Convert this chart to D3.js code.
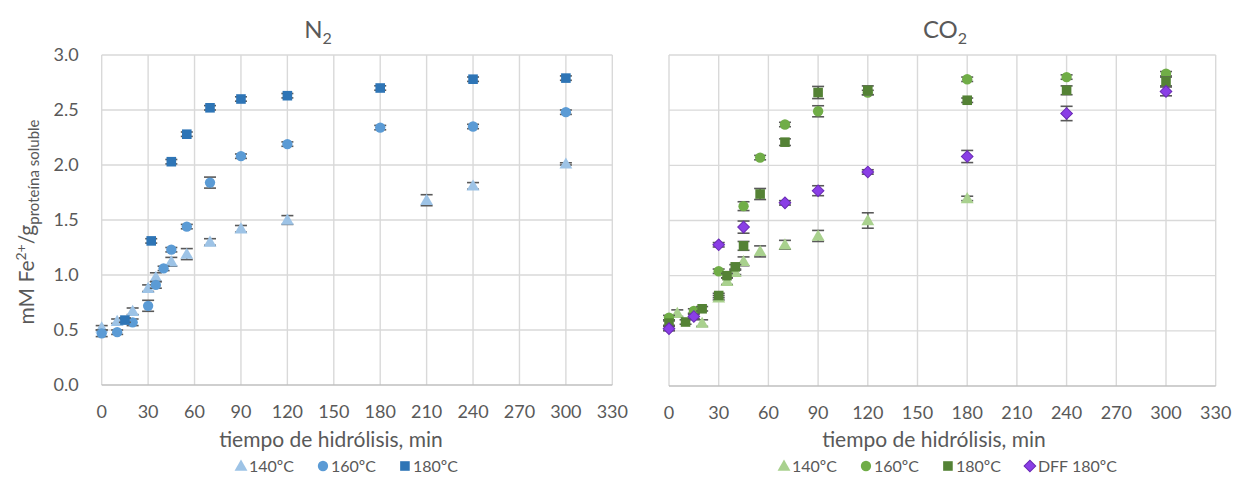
<!DOCTYPE html>
<html>
<head>
<meta charset="utf-8">
<script src="https://cdn.jsdelivr.net/npm/d3@7"></script>
<style>
  body { margin: 0; background: #fff; }
  svg { font-family: Lato, "Open Sans", sans-serif; }
</style>
</head>
<body>
<svg id="chart" width="1240" height="486"></svg>
<script>
// axis ticks
var xTickValues = [0, 30, 60, 90, 120, 150, 180, 210, 240, 270, 300, 330];
var yTickValues = [0.0, 0.5, 1.0, 1.5, 2.0, 2.5, 3.0];

// N2 panel
var n2T140 = [0, 10, 20, 30, 35, 45, 55, 70, 90, 120, 210, 240, 300];
var n2Y140 = [0.52, 0.58, 0.67, 0.88, 0.98, 1.12, 1.19, 1.30, 1.42, 1.50, 1.68, 1.81, 2.01];
var n2E140 = [0.02, 0.02, 0.03, 0.03, 0.04, 0.04, 0.05, 0.03, 0.03, 0.04, 0.05, 0.03, 0.01];

var n2T160 = [0, 10, 20, 30, 35, 40, 45, 55, 70, 90, 120, 180, 240, 300];
var n2Y160 = [0.47, 0.48, 0.57, 0.72, 0.91, 1.06, 1.23, 1.44, 1.84, 2.08, 2.19, 2.34, 2.35, 2.48];
var n2E160 = [0.03, 0.02, 0.03, 0.05, 0.03, 0.02, 0.02, 0.02, 0.05, 0.02, 0.02, 0.02, 0.02, 0.02];

var n2T180 = [15, 32, 45, 55, 70, 90, 120, 180, 240, 300];
var n2Y180 = [0.59, 1.31, 2.03, 2.28, 2.52, 2.60, 2.63, 2.70, 2.78, 2.79];
var n2E180 = [0.02, 0.02, 0.02, 0.02, 0.02, 0.02, 0.02, 0.02, 0.02, 0.02];

// CO2 panel
var co2T140 = [5, 20, 30, 35, 40, 45, 55, 70, 90, 120, 180];
var co2Y140 = [0.66, 0.57, 0.80, 0.95, 1.03, 1.13, 1.22, 1.28, 1.36, 1.50, 1.70];
var co2E140 = [0.03, 0.03, 0.02, 0.03, 0.02, 0.04, 0.05, 0.04, 0.05, 0.07, 0.02];

var co2T160 = [0, 15, 30, 45, 55, 70, 90, 120, 180, 240, 300];
var co2Y160 = [0.62, 0.68, 1.04, 1.63, 2.07, 2.37, 2.49, 2.66, 2.78, 2.80, 2.83];
var co2E160 = [0.02, 0.02, 0.02, 0.04, 0.02, 0.02, 0.05, 0.02, 0.02, 0.02, 0.02];

var co2T180 = [0, 10, 20, 30, 35, 40, 45, 55, 70, 90, 120, 180, 240, 300];
var co2Y180 = [0.57, 0.58, 0.70, 0.82, 1.00, 1.08, 1.27, 1.74, 2.21, 2.66, 2.68, 2.59, 2.68, 2.76];
var co2E180 = [0.02, 0.02, 0.02, 0.02, 0.02, 0.02, 0.04, 0.05, 0.03, 0.055, 0.04, 0.02, 0.04, 0.04];

var co2TDff = [0, 15, 30, 45, 70, 90, 120, 180, 240, 300];
var co2YDff = [0.52, 0.63, 1.28, 1.44, 1.66, 1.77, 1.94, 2.08, 2.47, 2.67];
var co2EDff = [0.02, 0.02, 0.02, 0.055, 0.02, 0.045, 0.02, 0.055, 0.065, 0.04];

var textColor = "#595959";
var gridColor = "#d9d9d9";
var errColor = "#595959";

function zipSeries(t, y, e) {
    return t.map(function (d, i) { return {t: d, y: y[i], e: e[i]}; });
}

var panels = [
    {
        title: "N", sub: "2", titleX: 318, xTitleX: 331,
        left: 101.7, right: 612.3, top: 55, bottom: 385,
        showY: true, legendStart: 235,
        series: [
            {name: "140ºC", shape: "triangle", fill: "#9dc3e6", data: zipSeries(n2T140, n2Y140, n2E140)},
            {name: "160ºC", shape: "circle", fill: "#5b9bd5", data: zipSeries(n2T160, n2Y160, n2E160)},
            {name: "180ºC", shape: "square", fill: "#2e75b6", data: zipSeries(n2T180, n2Y180, n2E180)}
        ]
    },
    {
        title: "CO", sub: "2", titleX: 945, xTitleX: 934,
        left: 669, right: 1215.7, top: 55, bottom: 386,
        showY: false, legendStart: 778,
        series: [
            {name: "140ºC", shape: "triangle", fill: "#a9d18e", data: zipSeries(co2T140, co2Y140, co2E140)},
            {name: "160ºC", shape: "circle", fill: "#70ad47", data: zipSeries(co2T160, co2Y160, co2E160)},
            {name: "180ºC", shape: "square", fill: "#548235", data: zipSeries(co2T180, co2Y180, co2E180)},
            {name: "DFF 180ºC", shape: "diamond", fill: "#8a3ee6", stroke: "#6a2bb5", data: zipSeries(co2TDff, co2YDff, co2EDff)}
        ]
    }
];

var svg = d3.select("#chart");

function symbolPath(shape) {
    if (shape === "triangle") return d3.symbol().type(d3.symbolTriangle).size(72)();
    if (shape === "circle") return d3.symbol().type(d3.symbolCircle).size(84)();
    if (shape === "square") return d3.symbol().type(d3.symbolSquare).size(92)();
    return d3.symbol().type(d3.symbolSquare).size(68)();
}

function drawMarker(g, shape, fill, stroke) {
    var p = g.append("path")
        .attr("d", symbolPath(shape))
        .attr("fill", fill);
    if (shape === "diamond") p.attr("transform", "rotate(45)").attr("stroke", stroke).attr("stroke-width", 1);
    if (shape === "triangle") p.attr("transform", "translate(0,1)");
    return p;
}

panels.forEach(function (p) {
    var x = d3.scaleLinear().domain([0, 330]).range([p.left, p.right]);
    var y = d3.scaleLinear().domain([0, 3]).range([p.bottom, p.top]);

    var grid = svg.append("g");
    grid.selectAll(".v").data(xTickValues).enter().append("line")
        .attr("x1", function (d) { return x(d); })
        .attr("x2", function (d) { return x(d); })
        .attr("y1", p.top).attr("y2", p.bottom)
        .attr("stroke", gridColor).attr("stroke-width", 1.4);
    grid.selectAll(".h").data(yTickValues).enter().append("line")
        .attr("x1", p.left).attr("x2", p.right)
        .attr("y1", function (d) { return y(d); })
        .attr("y2", function (d) { return y(d); })
        .attr("stroke", function (d) { return d === 0 ? "#bfbfbf" : gridColor; })
        .attr("stroke-width", 1.4);

    // x tick labels
    svg.append("g").selectAll("text").data(xTickValues).enter().append("text")
        .attr("x", function (d) { return x(d); })
        .attr("y", p.bottom + 33)
        .attr("text-anchor", "middle")
        .attr("font-size", 18)
        .attr("fill", textColor)
        .text(function (d) { return d; });

    if (p.showY) {
        svg.append("g").selectAll("text").data(yTickValues).enter().append("text")
            .attr("x", p.left - 23)
            .attr("y", function (d) { return y(d) + 6; })
            .attr("text-anchor", "end")
            .attr("font-size", 18)
            .attr("fill", textColor)
            .text(function (d) { return d3.format(".1f")(d); });
    }

    // title
    var t = svg.append("text")
        .attr("x", p.titleX).attr("y", 38)
        .attr("text-anchor", "middle")
        .attr("font-size", 24)
        .attr("fill", textColor);
    t.append("tspan").text(p.title);
    t.append("tspan").attr("font-size", 16).attr("dy", 6).text(p.sub);

    // x axis title
    svg.append("text")
        .attr("x", p.xTitleX).attr("y", 447)
        .attr("text-anchor", "middle")
        .attr("font-size", 21)
        .attr("fill", textColor)
        .text("tiempo de hidrólisis, min");

    // error bars sit behind the markers
    p.series.forEach(function (s) {
        var eg = svg.append("g").attr("stroke", errColor).attr("stroke-width", 1.6).attr("fill", "none");
        s.data.forEach(function (d) {
            var cx = x(d.t), yt = y(d.y + d.e), yb = y(d.y - d.e);
            eg.append("line").attr("x1", cx).attr("x2", cx).attr("y1", yt).attr("y2", yb);
            eg.append("line").attr("x1", cx - 6).attr("x2", cx + 6).attr("y1", yt).attr("y2", yt);
            eg.append("line").attr("x1", cx - 6).attr("x2", cx + 6).attr("y1", yb).attr("y2", yb);
        });
        var g = svg.append("g");
        s.data.forEach(function (d) {
            var m = g.append("g").attr("transform", "translate(" + x(d.t) + "," + y(d.y) + ")");
            drawMarker(m, s.shape, s.fill, s.stroke);
        });
    });

    // legend
    var lx = p.legendStart, ly = 466;
    p.series.forEach(function (s) {
        var m = svg.append("g").attr("transform", "translate(" + (lx + 6) + "," + ly + ")");
        drawMarker(m, s.shape, s.fill, s.stroke);
        var txt = svg.append("text")
            .attr("x", lx + 14).attr("y", ly + 6)
            .attr("font-size", 16)
            .attr("fill", textColor)
            .text(s.name);
        lx = lx + 14 + txt.node().getComputedTextLength() + 23;
    });
});

// y axis title
var yl = svg.append("text")
    .attr("transform", "translate(34,222) rotate(-90)")
    .attr("text-anchor", "middle")
    .attr("font-size", 21)
    .attr("fill", textColor);
yl.append("tspan").text("mM Fe");
yl.append("tspan").attr("font-size", 14).attr("dy", -8).text("2+");
yl.append("tspan").attr("dy", 8).text("/g");
yl.append("tspan").attr("font-size", 15).attr("dy", 5).text("proteína soluble");
</script>
</body>
</html>
